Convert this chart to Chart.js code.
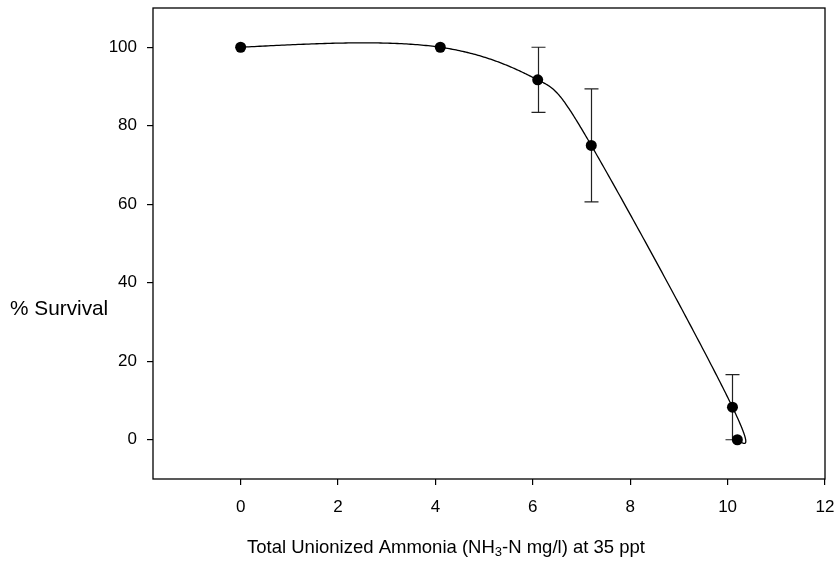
<!DOCTYPE html>
<html>
<head>
<meta charset="utf-8">
<title>% Survival vs Total Unionized Ammonia</title>
<script src="https://cdn.jsdelivr.net/npm/chart.js@4/dist/chart.umd.min.js"></script>
<style>
  html, body { margin: 0; padding: 0; background: #ffffff; }
  #wrap { width: 837px; height: 561px; }
</style>
</head>
<body>
<div id="wrap"><canvas id="c" width="837" height="561"></canvas></div>
<script>
// Measured survival at each ammonia level (mean and error)
const ammonia = [0, 4.1, 6.1, 7.2, 10.1, 10.2];
const survival = [100, 100, 91.7, 75, 8.3, 0];
const survivalErr = [0, 0, 8.3, 14.4, 8.3, 0];

// Axis ticks
const xTicks = [0, 2, 4, 6, 8, 10, 12];
const yTicks = [0, 20, 40, 60, 80, 100];

// Axis titles (x title has a subscript part)
const xTitleParts = ['Total Unionized Ammonia (NH', '3', '-N mg/l) at 35 ppt'];
const yTitle = '% Survival';

const FONT = '"Liberation Sans", Arial, Helvetica, sans-serif';
const TICK_PX = 17;
const X_TITLE_PX = 18.5;
const Y_TITLE_PX = 20.8;
// knot spacing exponent for the spline (0 = uniform, 0.5 = centripetal)
const KNOT_ALPHA = 0.12;

// Natural cubic spline on arbitrary knots t: returns second derivatives
function naturalSpline(t, v) {
  const n = v.length;
  const M = new Array(n).fill(0);
  if (n < 3) return M;
  const c = new Array(n).fill(0), d = new Array(n).fill(0);
  for (let i = 1; i < n - 1; i++) {
    const h0 = t[i] - t[i - 1], h1 = t[i + 1] - t[i];
    const a = h0, b = 2 * (h0 + h1), cc = h1;
    const rhs = 6 * ((v[i + 1] - v[i]) / h1 - (v[i] - v[i - 1]) / h0);
    const prevC = i > 1 ? c[i - 1] : 0;
    const prevD = i > 1 ? d[i - 1] : 0;
    const denom = b - a * prevC;
    c[i] = cc / denom;
    d[i] = (rhs - a * prevD) / denom;
  }
  for (let i = n - 2; i >= 1; i--) M[i] = d[i] - c[i] * M[i + 1];
  return M;
}
function splineAt(t, v, M, i, s) {
  const h = t[i + 1] - t[i];
  const A = t[i + 1] - s, B = s - t[i];
  return (M[i] * A * A * A + M[i + 1] * B * B * B) / (6 * h)
    + (v[i] / h - M[i] * h / 6) * A + (v[i + 1] / h - M[i + 1] * h / 6) * B;
}

// Smooth parametric curve through the data points
const curvePlugin = {
  id: 'curve',
  beforeDatasetsDraw(chart) {
    const { ctx, scales: { x, y }, chartArea } = chart;
    const px = ammonia.map(v => x.getPixelForValue(v));
    const py = survival.map(v => y.getPixelForValue(v));
    const t = [0];
    for (let i = 1; i < px.length; i++) {
      t.push(t[i - 1] + Math.pow(Math.hypot(px[i] - px[i - 1], py[i] - py[i - 1]), KNOT_ALPHA));
    }
    const Mx = naturalSpline(t, px), My = naturalSpline(t, py);
    ctx.save();
    ctx.beginPath();
    ctx.rect(chartArea.left, chartArea.top, chartArea.right - chartArea.left, chartArea.bottom - chartArea.top);
    ctx.clip();
    ctx.beginPath();
    const steps = 80;
    for (let i = 0; i < px.length - 1; i++) {
      for (let k = (i === 0 ? 0 : 1); k <= steps; k++) {
        const s = t[i] + (t[i + 1] - t[i]) * k / steps;
        const cx = splineAt(t, px, Mx, i, s);
        const cy = splineAt(t, py, My, i, s);
        if (i === 0 && k === 0) ctx.moveTo(cx, cy); else ctx.lineTo(cx, cy);
      }
    }
    ctx.strokeStyle = '#000';
    ctx.lineWidth = 1.3;
    ctx.lineJoin = 'round';
    ctx.stroke();
    ctx.restore();
  }
};

// Vertical error bars with caps
const errorBarPlugin = {
  id: 'errorBars',
  beforeDatasetsDraw(chart) {
    const { ctx, scales: { x, y } } = chart;
    ctx.save();
    ctx.strokeStyle = '#222';
    ctx.lineWidth = 1.2;
    const cap = 7;
    for (let i = 0; i < ammonia.length; i++) {
      const e = survivalErr[i];
      if (!e) continue;
      const px = Math.round(x.getPixelForValue(ammonia[i])) + 0.5;
      const yTop = y.getPixelForValue(survival[i] + e);
      const yBot = y.getPixelForValue(survival[i] - e);
      ctx.beginPath();
      ctx.moveTo(px, yTop); ctx.lineTo(px, yBot);
      ctx.moveTo(px - cap, yTop); ctx.lineTo(px + cap, yTop);
      ctx.moveTo(px - cap, yBot); ctx.lineTo(px + cap, yBot);
      ctx.stroke();
    }
    ctx.restore();
  }
};

// Box frame round the plot area plus the axis titles
const framePlugin = {
  id: 'frame',
  afterDraw(chart) {
    const { ctx, chartArea: a } = chart;
    ctx.save();
    ctx.strokeStyle = '#000';
    ctx.lineWidth = 1.3;
    ctx.strokeRect(a.left, a.top, a.right - a.left, a.bottom - a.top);

    ctx.fillStyle = '#000';
    ctx.textBaseline = 'alphabetic';
    ctx.textAlign = 'left';
    // y title, horizontal, left of the axis
    ctx.font = Y_TITLE_PX + 'px ' + FONT;
    ctx.fillText(yTitle, 10, 315);

    // x title with subscript
    const subPx = Math.round(X_TITLE_PX * 0.7);
    ctx.font = X_TITLE_PX + 'px ' + FONT;
    const w0 = ctx.measureText(xTitleParts[0]).width;
    const w2 = ctx.measureText(xTitleParts[2]).width;
    ctx.font = subPx + 'px ' + FONT;
    const w1 = ctx.measureText(xTitleParts[1]).width;
    const total = w0 + w1 + w2;
    let tx = 446 - total / 2;
    const base = 553;
    ctx.font = X_TITLE_PX + 'px ' + FONT;
    ctx.fillText(xTitleParts[0], tx, base);
    tx += w0;
    ctx.font = subPx + 'px ' + FONT;
    ctx.fillText(xTitleParts[1], tx, base + 3);
    tx += w1;
    ctx.font = X_TITLE_PX + 'px ' + FONT;
    ctx.fillText(xTitleParts[2], tx, base);
    ctx.restore();
  }
};

// Keep the plot box at a fixed place: no extra room for edge labels
function fixPadding(scale) {
  scale.paddingTop = 0;
  scale.paddingBottom = 0;
  scale.paddingLeft = 0;
  scale.paddingRight = 0;
}

new Chart(document.getElementById('c'), {
  type: 'scatter',
  data: {
    datasets: [{
      data: ammonia.map((v, i) => ({ x: v, y: survival[i] })),
      backgroundColor: '#000',
      borderColor: '#000',
      borderWidth: 0,
      pointRadius: 5.5,
      pointHoverRadius: 5.5,
      showLine: false
    }]
  },
  options: {
    responsive: false,
    animation: false,
    events: [],
    layout: { padding: { top: 8, right: 12, left: 0, bottom: 0 } },
    plugins: { legend: { display: false }, tooltip: { enabled: false } },
    scales: {
      x: {
        type: 'linear',
        min: -1.8,
        max: 12,
        afterBuildTicks(scale) { scale.ticks = xTicks.map(v => ({ value: v })); },
        afterFit(scale) { scale.height = 82; fixPadding(scale); },
        border: { display: false },
        grid: { drawOnChartArea: false, drawTicks: true, tickLength: 6, tickColor: '#000', lineWidth: 1.2 },
        ticks: { color: '#000', font: { family: FONT, size: TICK_PX }, padding: 12, maxRotation: 0, autoSkip: false }
      },
      y: {
        type: 'linear',
        min: -10,
        max: 110,
        afterBuildTicks(scale) { scale.ticks = yTicks.map(v => ({ value: v })); },
        afterFit(scale) { scale.width = 153; fixPadding(scale); },
        border: { display: false },
        grid: { drawOnChartArea: false, drawTicks: true, tickLength: 6, tickColor: '#000', lineWidth: 1.2 },
        ticks: { color: '#000', font: { family: FONT, size: TICK_PX }, padding: 10 }
      }
    }
  },
  plugins: [curvePlugin, errorBarPlugin, framePlugin]
});
</script>
</body>
</html>
